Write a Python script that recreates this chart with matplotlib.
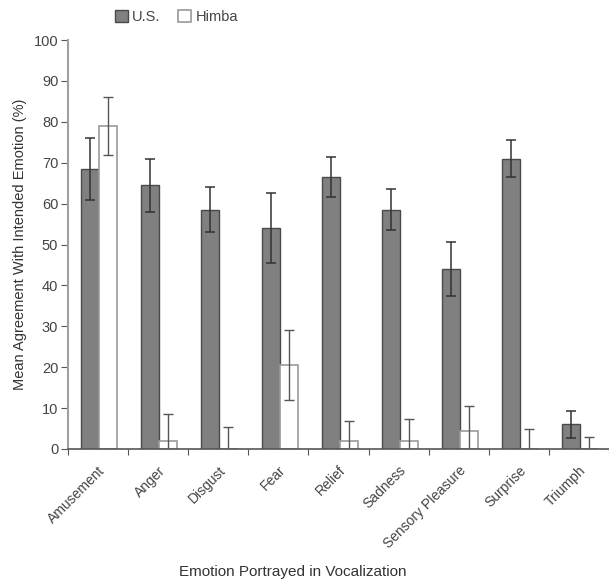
import numpy as np
import matplotlib
matplotlib.use("Agg")
import matplotlib.pyplot as plt
from matplotlib import font_manager

# fonts: narrow sans if present
names = {f.name for f in font_manager.fontManager.ttflist}
fam = "Liberation Sans Narrow" if "Liberation Sans Narrow" in names else "Liberation Sans"
plt.rcParams['font.family'] = [fam, 'DejaVu Sans']

emotions = ["Amusement", "Anger", "Disgust", "Fear", "Relief", "Sadness",
            "Sensory Pleasure", "Surprise", "Triumph"]
us_mean = [68.5, 64.5, 58.5, 54.0, 66.5, 58.5, 44.0, 71.0, 6.0]
us_err = [7.5, 6.5, 5.5, 8.5, 5.0, 5.0, 6.5, 4.5, 3.3]
himba_mean = [79.0, 2.0, 0.0, 20.5, 2.0, 2.0, 4.3, 0.0, 0.0]
himba_err = [7.0, 6.5, 5.5, 8.5, 4.8, 5.4, 6.2, 5.0, 3.0]

grey = "#808080"
edge = "#4a4a4a"
light = "#9a9a9a"
txt = "#444444"

fig = plt.figure(figsize=(6.09, 5.86), dpi=100)
ax = fig.add_axes([68/609, 1-449/586, 1-68/609, (449-40)/586])

x = np.arange(len(emotions))
w = 0.3
ax.bar(x - 0.13, us_mean, w, color=grey, edgecolor=edge, linewidth=1.0,
       label="U.S.", zorder=2)
ax.bar(x + 0.17, himba_mean, w, color="white", edgecolor=light, linewidth=1.2,
       label="Himba", zorder=2)
ax.errorbar(x - 0.13, us_mean, yerr=us_err, fmt="none", ecolor="#333333",
            elinewidth=1.1, capsize=3.5, capthick=1.1, zorder=3)
ax.errorbar(x + 0.17, himba_mean, yerr=himba_err, fmt="none", ecolor="#555555",
            elinewidth=1.0, capsize=3.5, capthick=1.0, zorder=3)

ax.set_xlim(-0.5, len(emotions) - 0.5)
ax.set_ylim(0, 100)
ax.set_yticks(range(0, 101, 10))
ax.set_xticks(np.arange(len(emotions) + 1) - 0.5)
ax.set_xticklabels([])
ax.tick_params(axis='x', length=4, color="#555555", direction='out')
ax.tick_params(axis='y', length=5, color="#555555", labelcolor=txt, labelsize=10.5, pad=2)

for i, lab in enumerate(emotions):
    ax.text(i + 0.0, -3.5, lab, rotation=45, ha='right', va='top',
            rotation_mode='anchor', fontsize=10, color=txt)

for s in ["top", "right"]:
    ax.spines[s].set_visible(False)
ax.spines["left"].set_color("#a0a0a0")
ax.spines["left"].set_linewidth(1.5)
ax.spines["bottom"].set_color("#555555")
ax.spines["bottom"].set_linewidth(1.2)

ax.set_ylabel("Mean Agreement With Intended Emotion (%)", fontsize=10.5, color="#333333", labelpad=5)
fig.text(293/609, 1-572/586, "Emotion Portrayed in Vocalization", ha='center', va='center',
         fontsize=11, color="#333333")

ax.legend(loc='lower left', bbox_to_anchor=(0.07, 1.017), ncol=2, frameon=False,
          fontsize=10.5, handlelength=0.9, handleheight=0.9, handletextpad=0.3,
          columnspacing=1.2, labelcolor=txt, borderaxespad=0.2)

fig.savefig("out.png", dpi=100)
